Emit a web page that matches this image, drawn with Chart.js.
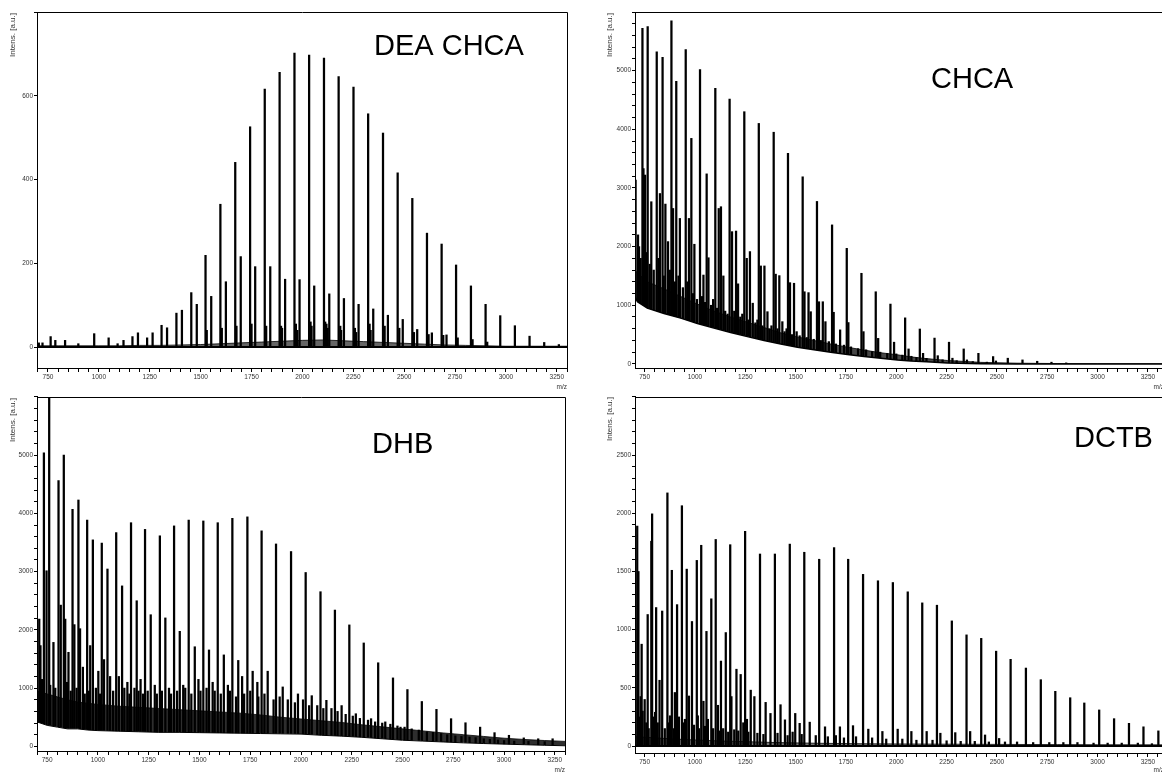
<!DOCTYPE html>
<html lang="en">
<head>
<meta charset="UTF-8">
<title>MALDI spectra - matrix comparison</title>
<script src="https://cdn.jsdelivr.net/npm/chart.js"></script>
<style>
  html, body { margin: 0; padding: 0; background: #fff; overflow: hidden; }
  #wrap { position: relative; width: 1162px; height: 772px; overflow: hidden; }
  canvas { position: absolute; }
</style>
</head>
<body>
<div id="wrap">
  <canvas id="c1" width="580" height="392" style="left:0;top:0"></canvas>
  <canvas id="c2" width="590" height="392" style="left:580px;top:0"></canvas>
  <canvas id="c3" width="580" height="380" style="left:0;top:392px"></canvas>
  <canvas id="c4" width="590" height="380" style="left:580px;top:392px"></canvas>
</div>
<script>
// ---- DEA CHCA ----
var deaMainMz  = [1524,1597,1670,1743,1815,1888,1961,2033,2106,2178,2251,2323,2396,2468,2540,2612,2684,2755,2828,2900,2972,3044,3116,3188,3260];
var deaMainInt = [219,341,441,526,616,656,702,697,690,646,621,557,511,416,355,272,246,196,146,102,75,51,26,11,6];
var deaSideMz  = [705,723,763,786,834,899,977,1048,1092,1121,1165,1192,1237,1264,1308,1335,1381,1408,1454,1481,1552,1624,1697,1768,1842,1915,1986,2058,2132,2204,2276,2348,2420,2493,2564,2636,2708];
var deaSideInt = [10,10,25,16,16,8,32,22,8,16,25,34,22,34,52,46,81,88,130,102,121,156,216,192,192,162,161,146,127,116,102,91,76,66,42,34,29];
var deaFineMz  = [1530,1604,1676,1750,1822,1895,1900,1968,1975,2040,2045,2112,2118,2124,2186,2190,2258,2264,2330,2335,2404,2476,2548,2620,2692,2763,2836,2908];
var deaFineInt = [40,45,50,55,50,50,45,55,40,60,50,60,55,45,50,40,45,35,55,40,50,45,35,30,28,22,18,12];
var deaNoiseMz = [697,800,900,1000,1100,1200,1300,1400,1500,1600,1700,1800,1900,2000,2100,2200,2300,2400,2500,2600,2700,2800,2900,3000,3300];
var deaNoiseLo = [0,0,0,0,0,0,0,0,0,0,0,0,0,0,0,0,0,0,0,0,0,0,0,0,0];
var deaNoiseHi = [3,3,3,3,3,4,4,5,6,8,10,12,14,16,17,15,13,11,9,7,5,4,3,2,2];

// ---- CHCA ----
var chcaMainMz  = [739,765,810,839,883,907,954,982,1025,1058,1101,1129,1172,1204,1245,1273,1317,1345,1391,1419,1462,1492,1535,1564,1606,1635,1681,1754,1827,1898,1971,2044,2117,2190,2262,2335,2408,2481,2554,2627,2700,2771,2844];
var chcaMainInt = [5720,5750,5320,5225,5850,4820,5360,3845,5020,3240,4700,2680,4515,2265,4300,1915,4100,1670,3950,1505,3590,1375,3190,1215,2770,1060,2370,1970,1545,1230,1020,785,595,440,370,255,180,125,97,68,45,29,17];
var chcaSideMz  = [705,717,744,752,783,826,853,866,891,925,970,997,1042,1067,1118,1141,1184,1214,1257,1287,1327,1360,1401,1434,1472,1505,1544,1575,1616,1648,1689,1721,1762,1837,1910,1989,2061,2133,2206,2279,2351,2495];
var chcaSideInt = [3135,2200,3330,3220,2765,2905,2725,2085,2650,2480,2480,2040,1515,1810,2650,1500,2255,1365,1800,1035,1670,890,1530,720,1385,550,1230,890,1060,720,880,580,705,550,435,370,255,180,140,97,68,50];
var chcaFineMz  = [722,730,758,775,795,818,845,875,900,918,940,962,990,1010,1035,1050,1080,1090,1110,1150,1162,1195,1225,1235,1265,1300,1310,1335,1370,1380,1410,1445,1455,1482,1520,1555,1590,1625,1665,1700,1740,1775,1810,1850,1880,1920,1955,2000,2030,2075,2100,2150,2230,2300,2380,2450];
var chcaFineInt = [2000,1800,1900,1700,1600,1800,1500,1600,1400,1500,1300,1400,1200,1100,1150,1050,1000,1100,950,900,850,900,800,850,750,700,750,650,600,650,600,550,600,500,480,450,420,400,380,340,320,290,260,240,210,200,180,170,150,130,110,95,70,55,40,30];
var chcaNoiseMz = [702,714,763,846,929,1012,1094,1177,1260,1343,1426,1509,1591,1674,1757,1840,1923,2006,2072,2150,2255,2420,2600,2800,3000,3330];
var chcaNoiseLo = [1150,1060,950,860,780,690,610,535,465,400,340,285,240,200,160,125,97,68,50,35,15,4,0,0,0,0];
var chcaNoiseHi = [1600,1550,1400,1280,1150,1020,900,800,710,620,530,460,400,340,285,235,190,155,120,90,58,26,12,6,4,3];

// ---- DHB ----
var dhbMainMz  = [734,760,806,832,875,904,947,975,1019,1047,1090,1119,1163,1191,1232,1260,1305,1332,1375,1403,1447,1477,1519,1547,1590,1620,1662,1691,1736,1762,1806,1877,1951,2023,2096,2167,2238,2309,2380,2453,2524,2595,2667,2739,2810,2882,2953,3024,3097,3168,3239];
var dhbMainInt = [5040,6300,4565,5000,4070,4230,3885,3545,3490,3045,3670,2755,3840,2500,3725,2260,3615,2205,3785,1975,3885,1710,3870,1655,3840,1570,3915,1475,3940,1290,3700,3475,3345,2985,2655,2340,2085,1775,1435,1175,975,770,635,475,405,330,235,190,145,130,130];
var dhbSideMz  = [711,717,747,781,817,839,855,884,912,926,962,1002,1030,1060,1103,1145,1210,1280,1350,1420,1495,1565,1640,1710,1785,1836,1910,1985,2053,2125,2200,2270,2345,2415,2490];
var dhbSideInt = [2185,1730,3015,1785,2425,2185,1615,2090,2020,1360,1730,1290,1490,1200,1200,1100,1150,1050,1000,1050,1150,1100,1050,1200,1100,1290,1020,900,870,790,700,560,475,420,330];
var dhbFineMz  = [724,765,790,848,866,895,935,955,990,1010,1075,1130,1155,1180,1200,1222,1245,1290,1315,1360,1390,1430,1460,1505,1535,1575,1605,1650,1680,1720,1750,1790,1820,1865,1895,1935,1970,2010,2040,2080,2110,2150,2180,2220,2255,2290,2330,2365,2400,2440,2475,2510,2545,2580,2620,2650,2690,2720,2760,2790,2830,2860,2900,2930,2970,3000,3050,3120,3200];
var dhbFineInt = [1150,1050,1000,1100,950,1000,900,950,1000,900,950,1000,900,1000,950,900,950,900,950,900,950,1000,900,950,1000,950,900,950,850,900,950,850,900,800,850,800,750,800,700,700,650,650,600,550,520,480,450,420,400,380,350,330,300,280,250,240,220,200,180,170,160,150,130,120,110,100,90,85,80];
var dhbNoiseMz = [700,750,800,850,900,950,1000,1100,1200,1300,1400,1500,1600,1700,1800,1900,2000,2100,2200,2300,2400,2500,2600,2700,2800,2900,3000,3100,3200,3300];
var dhbNoiseLo = [420,360,330,300,300,280,270,260,250,240,240,235,230,225,220,215,210,190,175,155,130,105,90,75,60,48,38,28,18,10];
var dhbNoiseHi = [950,900,850,800,760,740,720,690,670,650,630,610,590,570,540,500,470,440,410,370,335,300,265,230,200,170,140,118,100,85];

// ---- DCTB ----
var dctbMainMz  = [713,719,735,765,783,787,807,837,863,885,911,935,959,985,1009,1031,1057,1081,1103,1129,1153,1175,1206,1227,1249,1277,1323,1397,1471,1543,1617,1691,1761,1835,1909,1983,2057,2129,2202,2276,2349,2422,2496,2568,2644,2718,2790,2864,2934,3008,3082,3156,3228,3302];
var dctbMainInt = [1890,1500,875,1130,1760,1995,1190,1160,2175,1510,1215,2065,1520,1070,1595,1725,985,1265,1775,730,975,1730,660,615,1845,480,1650,1650,1735,1665,1605,1705,1605,1475,1420,1405,1325,1230,1210,1075,955,925,815,745,670,570,470,415,370,310,235,195,165,130];
var dctbSideMz  = [730,750,802,824,876,900,950,970,1014,1042,1064,1114,1181,1240,1258,1295,1351,1375,1425,1447,1498,1520,1570,1646,1720,1785,1861,1931,2007,2075,2151,2219,2293,2367,2441,2511];
var dctbSideInt = [425,400,290,565,260,460,230,430,260,385,230,350,425,200,230,425,375,280,355,225,280,195,205,165,165,175,145,125,145,125,125,110,115,125,95,65];
var dctbFineMz  = [722,740,758,770,795,815,850,870,895,920,945,995,1020,1050,1090,1120,1140,1165,1195,1215,1265,1310,1340,1410,1460,1485,1530,1600,1660,1700,1740,1800,1880,1950,2030,2100,2180,2250,2320,2390,2460,2540,2600,2680,2760,2830,2900,2980,3050,3120,3200,3270];
var dctbFineInt = [250,300,200,150,250,200,150,200,150,250,200,180,150,170,150,130,150,120,140,130,120,110,100,110,90,120,100,90,80,90,70,80,70,60,60,50,50,45,40,40,35,35,35,30,30,30,30,25,25,25,25,20];
var dctbNoiseMz = [702,800,900,1000,1100,1200,1300,1400,1500,1600,1800,2000,2200,2500,2800,3000,3330];
var dctbNoiseLo = [0,0,0,0,0,0,0,0,0,0,0,0,0,0,0,0,0];
var dctbNoiseHi = [80,70,60,52,45,40,35,30,27,24,20,18,16,14,12,11,10];

Chart.defaults.font.family = '"Liberation Sans", Arial, sans-serif';

function pts(xs, ys) {
  return xs.map(function (x, i) { return { x: x, y: ys[i] }; });
}

// frame, title, axis captions
var decor = {
  id: 'decor',
  afterDraw: function (chart, args, o) {
    var ctx = chart.ctx, a = chart.chartArea;
    ctx.save();
    ctx.strokeStyle = '#000';
    ctx.lineWidth = 1;
    ctx.beginPath();
    ctx.moveTo(Math.round(a.left) + 0.5, Math.round(a.top) + 0.5);
    ctx.lineTo(Math.round(a.right) + 0.5, Math.round(a.top) + 0.5);
    ctx.lineTo(Math.round(a.right) + 0.5, Math.round(a.bottom) + 0.5);
    ctx.stroke();

    ctx.fillStyle = '#000';
    ctx.font = '29px "Liberation Sans", Arial, sans-serif';
    ctx.textAlign = 'left';
    ctx.textBaseline = 'alphabetic';
    ctx.fillText(o.title, o.tx, o.ty);

    ctx.fillStyle = '#333';
    ctx.font = '6.5px "Liberation Sans", Arial, sans-serif';
    ctx.textAlign = 'right';
    ctx.textBaseline = 'middle';
    ctx.fillText('m/z', a.right, o.mzY);

    ctx.translate(o.labX, o.labTop);
    ctx.rotate(-Math.PI / 2);
    ctx.font = '8px "Liberation Sans", Arial, sans-serif';
    ctx.fillText('Intens. [a.u.]', 0, 0);
    ctx.restore();
  }
};

function makePanel(id, p) {
  var canvas = document.getElementById(id);
  var allMz = p.mainMz.concat(p.sideMz, p.fineMz);
  var allInt = p.mainInt.concat(p.sideInt, p.fineInt);
  return new Chart(canvas, {
    type: 'bar',
    data: {
      datasets: [
        {
          type: 'bar',
          data: pts(allMz, allInt),
          backgroundColor: '#000',
          barThickness: 1.6,
          order: 3
        },
        {
          type: 'line',
          data: pts(p.noiseMz, p.noiseHi),
          fill: 2,
          backgroundColor: p.noiseFill,
          borderColor: '#000',
          borderWidth: 0.8,
          pointRadius: 0,
          tension: 0,
          order: 2
        },
        {
          type: 'line',
          data: pts(p.noiseMz, p.noiseLo),
          fill: 'start',
          backgroundColor: '#fff',
          borderColor: '#000',
          borderWidth: p.baseW,
          pointRadius: 0,
          tension: 0,
          order: 1
        }
      ]
    },
    options: {
      responsive: false,
      animation: false,
      devicePixelRatio: 1,
      events: [],
      layout: { padding: { top: p.top, right: p.right, left: 0, bottom: 0 } },
      plugins: {
        legend: { display: false },
        tooltip: { enabled: false },
        decor: p.decor
      },
      scales: {
        x: {
          type: 'linear',
          min: p.xMin,
          max: p.xMax,
          offset: false,
          afterFit: function (s) { s.height = p.xH; },
          grid: { offset: false, drawOnChartArea: false, tickLength: 4, color: '#000', lineWidth: 1 },
          border: { color: '#000', width: 1, z: 1 },
          ticks: {
            stepSize: 50,
            includeBounds: false,
            autoSkip: false,
            maxRotation: 0,
            padding: 1,
            color: '#333',
            font: { size: 6.5 },
            callback: function (v) { return v % 250 === 0 ? String(v) : ''; }
          }
        },
        y: {
          min: p.yMin,
          max: p.yMax,
          afterFit: function (s) { s.width = p.yW; },
          grid: { drawOnChartArea: false, tickLength: 3, color: '#000', lineWidth: 1 },
          border: { color: '#000', width: 1, z: 1 },
          ticks: {
            stepSize: p.yMinor,
            includeBounds: false,
            autoSkip: false,
            padding: 1,
            color: '#333',
            font: { size: 6.5 },
            callback: function (v) { return (v % p.yMajor === 0 && v < p.yMax) ? String(v) : ''; }
          }
        }
      }
    },
    plugins: [decor]
  });
}

makePanel('c1', {
  mainMz: deaMainMz, mainInt: deaMainInt, sideMz: deaSideMz, sideInt: deaSideInt,
  fineMz: deaFineMz, fineInt: deaFineInt,
  noiseMz: deaNoiseMz, noiseLo: deaNoiseLo, noiseHi: deaNoiseHi,
  noiseFill: 'rgba(0,0,0,0.6)', baseW: 2,
  xMin: 696, xMax: 3300, yMin: -50, yMax: 800, yMinor: 200, yMajor: 200,
  top: 12, right: 13, xH: 24, yW: 37,
  decor: { title: 'DEA CHCA', tx: 374, ty: 55, mzY: 387, labX: 13, labTop: 13 }
});

makePanel('c2', {
  mainMz: chcaMainMz, mainInt: chcaMainInt, sideMz: chcaSideMz, sideInt: chcaSideInt,
  fineMz: chcaFineMz, fineInt: chcaFineInt,
  noiseMz: chcaNoiseMz, noiseLo: chcaNoiseLo, noiseHi: chcaNoiseHi,
  noiseFill: 'rgba(0,0,0,0.72)', baseW: 1.5,
  xMin: 702, xMax: 3330, yMin: -70, yMax: 6000, yMinor: 200, yMajor: 1000,
  top: 12, right: 6, xH: 24, yW: 55,
  decor: { title: 'CHCA', tx: 351, ty: 88, mzY: 387, labX: 30, labTop: 13 }
});

makePanel('c3', {
  mainMz: dhbMainMz, mainInt: dhbMainInt, sideMz: dhbSideMz, sideInt: dhbSideInt,
  fineMz: dhbFineMz, fineInt: dhbFineInt,
  noiseMz: dhbNoiseMz, noiseLo: dhbNoiseLo, noiseHi: dhbNoiseHi,
  noiseFill: 'rgba(0,0,0,0.82)', baseW: 1,
  xMin: 700, xMax: 3300, yMin: -80, yMax: 6000, yMinor: 200, yMajor: 1000,
  top: 3, right: 15, xH: 21, yW: 37,
  decor: { title: 'DHB', tx: 372, ty: 61, mzY: 378, labX: 13, labTop: 6 }
});

makePanel('c4', {
  mainMz: dctbMainMz, mainInt: dctbMainInt, sideMz: dctbSideMz, sideInt: dctbSideInt,
  fineMz: dctbFineMz, fineInt: dctbFineInt,
  noiseMz: dctbNoiseMz, noiseLo: dctbNoiseLo, noiseHi: dctbNoiseHi,
  noiseFill: 'rgba(0,0,0,0.55)', baseW: 2,
  xMin: 702, xMax: 3330, yMin: -60, yMax: 3000, yMinor: 100, yMajor: 500,
  top: 4, right: 6, xH: 19, yW: 55,
  decor: { title: 'DCTB', tx: 494, ty: 55, mzY: 378, labX: 30, labTop: 5 }
});
</script>
</body>
</html>
